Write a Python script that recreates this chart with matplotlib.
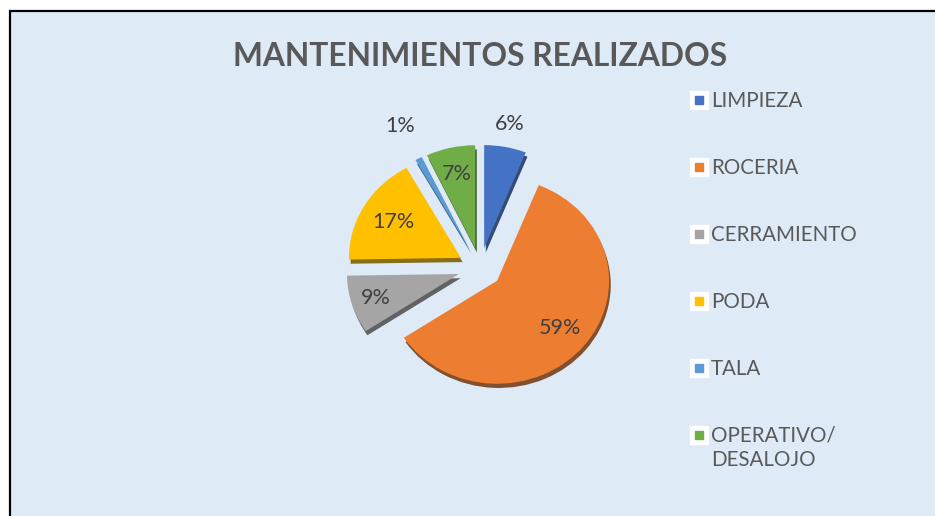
import numpy as np
import matplotlib
matplotlib.use("Agg")
import matplotlib.pyplot as plt
from matplotlib.patches import Rectangle

# ---- data ----
categories = ["LIMPIEZA", "ROCERIA", "CERRAMIENTO", "PODA", "TALA", "OPERATIVO/\nDESALOJO"]
values = [6, 59, 9, 17, 1, 7]  # percentages
colors = ["#4472C4", "#ED7D31", "#A5A5A5", "#FFC000", "#5B9BD5", "#70AD47"]
title = "MANTENIMIENTOS REALIZADOS"

W, H = 935, 516
fig = plt.figure(figsize=(W / 100, H / 100), dpi=100)
fig.patch.set_facecolor("white")

# chart area background with left/top border
bg = Rectangle((10 / W, -0.1), 1.2, 1.1 - 11 / H, transform=fig.transFigure,
               facecolor="#DEEBF7", edgecolor="black", linewidth=1.6, zorder=-10)
fig.patches.append(bg)

# pie axes in pixel-like data units (ellipse: Rx horizontal, Ry vertical)
Rx, Ry = 112, 103
k = Rx / Ry
ax = fig.add_axes([0, 0, 1, 1])
ax.set_facecolor("none")
ax.set_zorder(2)
cx, cy = 480, 268
explode_px = 22
wedges, _ = ax.pie(values, colors=colors, startangle=90, counterclock=False,
                   radius=Rx, center=(cx, (H - cy) * k),
                   explode=[explode_px] * len(values),
                   shadow=dict(ox=1.2, oy=-3.3, shade=0.5, alpha=0.9),
                   wedgeprops=dict(linewidth=0))
ax.set_xlim(0, W)
ax.set_ylim(0, H * k)
ax.set_aspect("auto")
ax.axis("off")

# percentage labels
label_dist = [1.23, 0.72, 0.78, 0.7, 1.36, 0.74]
for w, v, d in zip(wedges, values, label_dist):
    th = np.deg2rad((w.theta1 + w.theta2) / 2)
    x0, y0 = w.center
    ax.text(x0 + d * Rx * np.cos(th), y0 + d * Rx * np.sin(th),
            f"{v:.0f}%", ha="center", va="center",
            fontsize=15.5, color="#404040", family="Lato")

# title
fig.text(480 / W, 1 - 57 / H, title, ha="center", va="center",
         fontsize=22.9, fontweight="bold", color="#595959", family="Lato")

# legend (manual, Excel style)
leg_x, leg_y0, leg_step = 699, 100, 67
for i, (cat, col) in enumerate(zip(categories, colors)):
    y = leg_y0 + i * leg_step
    fig.add_artist(plt.Line2D([leg_x / W], [1 - y / H], marker="s", markersize=13,
                              markerfacecolor="white", markeredgecolor="white",
                              linestyle="none", transform=fig.transFigure))
    fig.add_artist(plt.Line2D([leg_x / W], [1 - y / H], marker="s", markersize=5.8,
                              markerfacecolor=col, markeredgecolor=col,
                              linestyle="none", transform=fig.transFigure))
    fig.text(711 / W, 1 - (y - 9) / H, cat, ha="left", va="top",
             fontsize=14.8, color="#595959", family="Lato", linespacing=1.25)

fig.savefig("out.png", dpi=100)
